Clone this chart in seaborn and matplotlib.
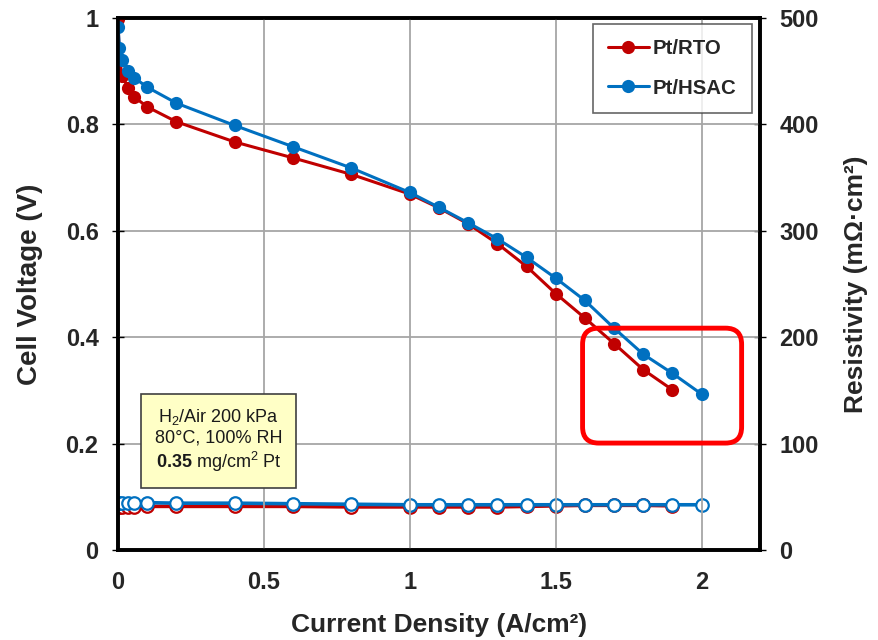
import matplotlib
matplotlib.use("Agg")
import matplotlib.pyplot as plt
import seaborn as sns
import numpy as np
import pandas as pd
from matplotlib.patches import FancyBboxPatch

current_rto = [0, 0.005, 0.015, 0.035, 0.055, 0.1, 0.2, 0.4, 0.6, 0.8, 1.0, 1.1, 1.2, 1.3, 1.4, 1.5, 1.6, 1.7, 1.8, 1.9]
voltage_rto = [0.998, 0.921, 0.891, 0.868, 0.852, 0.833, 0.805, 0.767, 0.737, 0.706, 0.669, 0.643, 0.613, 0.576, 0.533, 0.482, 0.436, 0.388, 0.339, 0.301]
resist_rto = [40, 40, 40, 40, 40.5, 41, 41, 41, 41, 40.5, 40.5, 40.5, 40.5, 40.5, 41, 41.5, 42, 42, 42, 41.5]

current_hsac = [0, 0.005, 0.015, 0.035, 0.055, 0.1, 0.2, 0.4, 0.6, 0.8, 1.0, 1.1, 1.2, 1.3, 1.4, 1.5, 1.6, 1.7, 1.8, 1.9, 2.0]
voltage_hsac = [0.984, 0.944, 0.921, 0.901, 0.888, 0.870, 0.840, 0.798, 0.758, 0.718, 0.672, 0.644, 0.615, 0.585, 0.550, 0.511, 0.469, 0.417, 0.368, 0.332, 0.293]
resist_hsac = [44.5, 44.5, 44.5, 44.5, 44.5, 44.5, 44, 44, 43.5, 43, 42.5, 42.5, 42.5, 42.5, 42.5, 42.5, 42.5, 42.5, 42.5, 42.5, 42.5]

series_names = ["Pt/RTO", "Pt/HSAC"]
colors = {"Pt/RTO": "#C00000", "Pt/HSAC": "#0070C0"}

xticks = [0, 0.5, 1, 1.5, 2]
xticklabels = ["0", "0.5", "1", "1.5", "2"]
yticks = [0, 0.2, 0.4, 0.6, 0.8, 1.0]
yticklabels = ["0", "0.2", "0.4", "0.6", "0.8", "1"]
y2ticks = [0, 100, 200, 300, 400, 500]

sns.set_theme(style="white")
plt.rcParams['font.family'] = ['Liberation Sans', 'DejaVu Sans']
plt.rcParams['mathtext.fontset'] = 'custom'
plt.rcParams['mathtext.rm'] = 'Liberation Sans'
plt.rcParams['mathtext.bf'] = 'Liberation Sans:bold'
plt.rcParams['mathtext.it'] = 'Liberation Sans:italic'

df_v = pd.concat([
    pd.DataFrame({"x": current_rto, "v": voltage_rto, "r": resist_rto, "s": series_names[0]}),
    pd.DataFrame({"x": current_hsac, "v": voltage_hsac, "r": resist_hsac, "s": series_names[1]}),
], ignore_index=True)

fig = plt.figure(figsize=(8.79, 6.4), dpi=100)
ax = fig.add_axes([118/879, 90/640, (760-118)/879, (550-18)/640])
ax2 = ax.twinx()

# resistivity (open circles) on right axis
for name in series_names:
    d = df_v[df_v.s == name]
    sns.lineplot(data=d, x="x", y="r", ax=ax2, color=colors[name], lw=2.6,
                 marker="o", markersize=9, markerfacecolor="white",
                 markeredgecolor=colors[name], markeredgewidth=1.6,
                 sort=False, legend=False, estimator=None)

# voltage on left axis
for name in series_names:
    d = df_v[df_v.s == name]
    sns.lineplot(data=d, x="x", y="v", ax=ax, color=colors[name], lw=2.2,
                 marker="o", markersize=9.5, markeredgewidth=0,
                 sort=False, label=name, estimator=None)

ax.set_xlim(0, 2.2)
ax.set_ylim(0, 1.0)
ax2.set_ylim(0, 500)
ax.set_xticks(xticks)
ax.set_xticklabels(xticklabels)
ax.set_yticks(yticks)
ax.set_yticklabels(yticklabels)
ax2.set_yticks(y2ticks)
ax.grid(True, color="#A6A6A6", lw=1.3)
ax2.grid(False)

for a in (ax, ax2):
    for sp in a.spines.values():
        sp.set_color("black")
        sp.set_linewidth(2.6)
ax.tick_params(axis="both", which="both", labelsize=17, direction="inout",
               length=8, width=1, color="black", pad=10)
ax.tick_params(axis="x", color="#A6A6A6", length=10, width=1.3, pad=10)
ax2.tick_params(axis="y", labelsize=17, direction="inout", length=8, width=1,
                color="black", pad=10)
for lab in ax.get_xticklabels() + ax.get_yticklabels() + ax2.get_yticklabels():
    lab.set_fontweight("bold")

ax.set_xlabel("Current Density (A/cm²)", fontsize=19, fontweight="bold", labelpad=14)
ax.set_ylabel("Cell Voltage (V)", fontsize=20, fontweight="bold", labelpad=16)
ax2.set_ylabel("Resistivity (mΩ·cm²)", fontsize=19, fontweight="bold", labelpad=18)

leg = ax.legend(loc="upper right", bbox_to_anchor=(0.9875, 0.989), borderaxespad=0,
                fontsize=14.7, frameon=True, fancybox=False, edgecolor="#404040",
                handlelength=2.0, labelspacing=1.0, borderpad=0.75, handletextpad=0.2)
leg.get_frame().set_linewidth(1.2)
for t in leg.get_texts():
    t.set_fontweight("bold")
leg.set_zorder(10)
ax.set_zorder(ax2.get_zorder() + 1)
ax.patch.set_visible(False)

ax.text(0.344, 0.206, "H$_2$/Air 200 kPa\n80°C, 100% RH\n$\\mathbf{0.35}$ mg/cm$^2$ Pt",
        ha="center", va="center", fontsize=13, linespacing=1.2, color="#1a1a1a",
        bbox=dict(boxstyle="square,pad=0.75", fc="#FFFFC6", ec="#404040", lw=1.2),
        zorder=11)

rect = FancyBboxPatch((1.592, 0.201), 2.137 - 1.592, 0.417 - 0.201,
                      boxstyle="round,pad=0,rounding_size=0.055",
                      mutation_aspect=0.55, fc="none", ec="#FF0000", lw=3.5,
                      zorder=12, clip_on=False)
ax.add_patch(rect)

fig.savefig("out.png", dpi=100)
